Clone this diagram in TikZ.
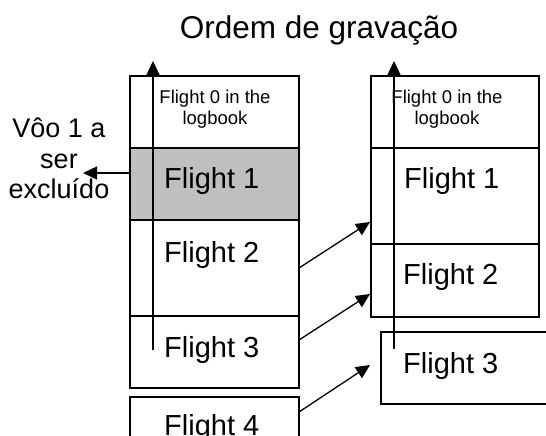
\documentclass[tikz,border=0pt]{standalone}
\usepackage{fontspec}
\setmainfont{Liberation Sans}
\usetikzlibrary{arrows.meta}
\begin{document}
\begin{tikzpicture}[x=1pt,y=-1pt,
  box/.style={draw, line width=1.5pt, inner sep=0pt, outer sep=0pt, anchor=north west},
  arr/.style={line width=1.3pt, -{Triangle[length=14pt,width=13pt]}},
  big/.style={font=\fontsize{29}{34}\selectfont, anchor=base west, inner sep=0pt},
  small/.style={font=\fontsize{18.5}{21}\selectfont, anchor=base, inner sep=0pt},
  lab/.style={font=\fontsize{27}{31}\selectfont, anchor=base, inner sep=0pt}]
\useasboundingbox (0,0) rectangle (546,436);
% title
\node[font=\fontsize{31.5}{36}\selectfont, anchor=base, inner sep=0pt] (title) at (319,39) {Ordem de gravação};
% left column
\node[box, minimum width=169pt, minimum height=72pt] (L0) at (130,76) {};
\node[box, fill=black!25, minimum width=169pt, minimum height=72pt] (L1) at (130,148) {};
\node[box, minimum width=169pt, minimum height=96pt] (L2) at (130,220) {};
\node[box, minimum width=169pt, minimum height=72pt] (L3) at (130,316) {};
\draw[line width=1.5pt] (130,440) -- (130,397) -- (299,397) -- (299,440);
\coordinate (L4) at (130,397);
% right column
\node[box, minimum width=168pt, minimum height=72pt] (R0) at (371,76) {};
\node[box, minimum width=168pt, minimum height=96pt] (R1) at (371,148) {};
\node[box, minimum width=168pt, minimum height=73pt] (R2) at (371,244) {};
\draw[line width=1.5pt] (550,332) -- (381,332) -- (381,404) -- (550,404);
\coordinate (R3) at (381,332);
% texts
\node[small] (l0a) at (215,103) {Flight 0 in the};
\node[small] (l0b) at (215,124) {logbook};
\node[big] (l1) at (164,188) {Flight 1};
\node[big] (l2) at (164,262) {Flight 2};
\node[big] (l3) at (164,357) {Flight 3};
\node[big] (l4) at (164,435) {Flight 4};
\node[small] (r0a) at (447,103) {Flight 0 in the};
\node[small] (r0b) at (447,124) {logbook};
\node[big] (r1) at (404,188) {Flight 1};
\node[big] (r2) at (403,284) {Flight 2};
\node[big] (r3) at (403,373) {Flight 3};
\node[lab] (va) at (59,137) {Vôo 1 a};
\node[lab] (vb) at (59,168) {ser};
\node[lab] (vc) at (59,198) {excluído};
% vertical arrows
\coordinate (lvs) at (153,350);
\coordinate (lve) at (153,61);
\coordinate (rvs) at (394,349);
\coordinate (rve) at (394,61);
\draw[arr] (lvs) -- (lve);
\draw[arr] (rvs) -- (rve);
% delete arrow
\coordinate (del) at (83,173);
\draw[arr] (L1.west |- del) -- (del);
% diagonal arrows
\coordinate (t1) at (370,222);
\coordinate (t2) at (370,294);
\coordinate (t3) at (370,365);
\draw[arr] (L2.east) -- (t1);
\draw[arr] (L3.east |- 0,340) -- (t2);
\draw[arr] (299,412) -- (t3);
\end{tikzpicture}
\end{document}
